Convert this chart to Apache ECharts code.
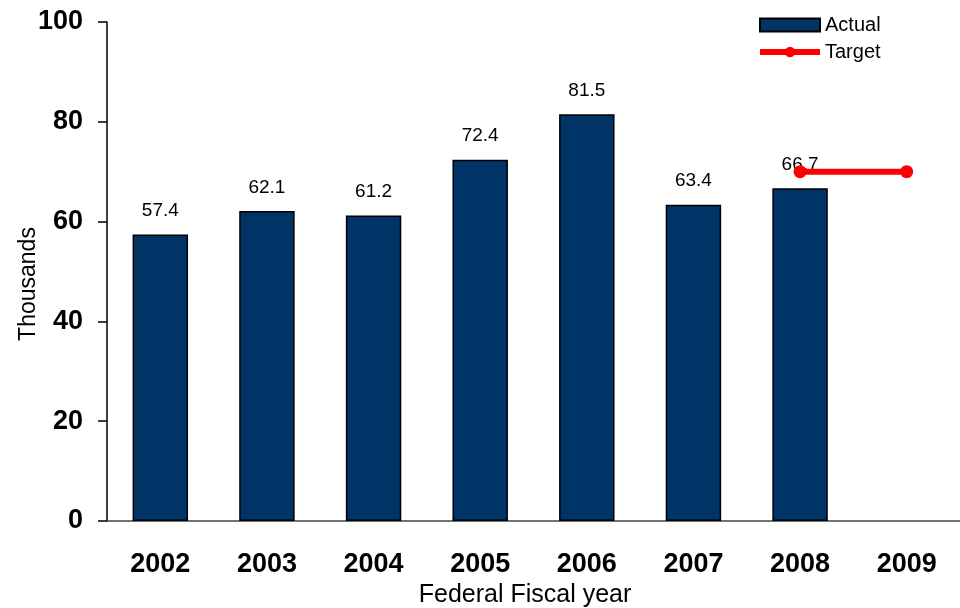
<!DOCTYPE html>
<html>
<head>
<meta charset="utf-8">
<script src="https://cdn.jsdelivr.net/npm/echarts@6/dist/echarts.min.js"></script>
<style>
  html, body { margin: 0; padding: 0; background: #fff; }
  #chart { width: 960px; height: 608px; }
</style>
</head>
<body>
<div id="chart"></div>
<script>
// Federal fiscal years on the category axis
const years = ['2002', '2003', '2004', '2005', '2006', '2007', '2008', '2009'];
// Actual counts, in thousands
const actual = [57.4, 62.1, 61.2, 72.4, 81.5, 63.4, 66.7, null];
// Target level, in thousands
const target = [null, null, null, null, null, null, 70, 70];
// Value axis range and step
const yMin = 0;
const yMax = 100;
const yStep = 20;

const FONT = '"Liberation Sans", Arial, Helvetica, sans-serif';

const chart = echarts.init(document.getElementById('chart'), null, { renderer: 'canvas' });

chart.setOption({
  animation: false,
  backgroundColor: '#ffffff',
  textStyle: { fontFamily: FONT, color: '#000' },
  grid: { left: 107, right: 0, top: 22, bottom: 87, containLabel: false },
  legend: {
    orient: 'vertical',
    left: 752,
    top: 10,
    itemWidth: 60,
    itemHeight: 13,
    itemGap: 7,
    data: [
      { name: 'Actual', icon: 'rect' },
      { name: 'Target', lineStyle: { width: 6 } }
    ],
    textStyle: { fontFamily: FONT, fontSize: 20, color: '#000' }
  },
  xAxis: {
    type: 'category',
    data: years,
    boundaryGap: true,
    axisLine: { show: true, lineStyle: { color: '#444', width: 1.5 } },
    axisTick: { show: false },
    axisLabel: {
      fontFamily: FONT, fontSize: 27, fontWeight: 'bold', color: '#000', margin: 30
    },
    splitLine: { show: false }
  },
  yAxis: {
    type: 'value',
    min: yMin,
    max: yMax,
    interval: yStep,
    axisLine: { show: true, lineStyle: { color: '#000', width: 1.5 } },
    axisTick: { show: true, inside: false, length: 9, lineStyle: { color: '#000', width: 1.5 } },
    axisLabel: {
      fontFamily: FONT, fontSize: 27, fontWeight: 'bold', color: '#000', margin: 24
    },
    splitLine: { show: false }
  },
  graphic: [
    {
      type: 'text',
      x: 29,
      y: 284,
      rotation: Math.PI / 2,
      style: {
        text: 'Thousands',
        font: '23px ' + FONT,
        fill: '#000',
        textAlign: 'center',
        textVerticalAlign: 'middle'
      }
    },
    {
      type: 'text',
      x: 525,
      y: 595,
      style: {
        text: 'Federal Fiscal year',
        font: '25px ' + FONT,
        fill: '#000',
        textAlign: 'center',
        textVerticalAlign: 'middle'
      }
    }
  ],
  series: [
    {
      name: 'Actual',
      type: 'bar',
      data: actual,
      barWidth: '52%',
      itemStyle: { color: '#003366', borderColor: '#000', borderWidth: 1.5 },
      label: {
        show: true,
        position: 'top',
        distance: 14,
        fontFamily: FONT,
        fontSize: 19,
        color: '#000',
        formatter: p => (p.value == null ? '' : Number(p.value).toFixed(1))
      },
      z: 2
    },
    {
      name: 'Target',
      type: 'line',
      data: target,
      symbol: 'circle',
      symbolSize: 13,
      connectNulls: false,
      lineStyle: { color: '#ff0000', width: 6 },
      itemStyle: { color: '#ff0000' },
      z: 3
    }
  ]
});
</script>
</body>
</html>
